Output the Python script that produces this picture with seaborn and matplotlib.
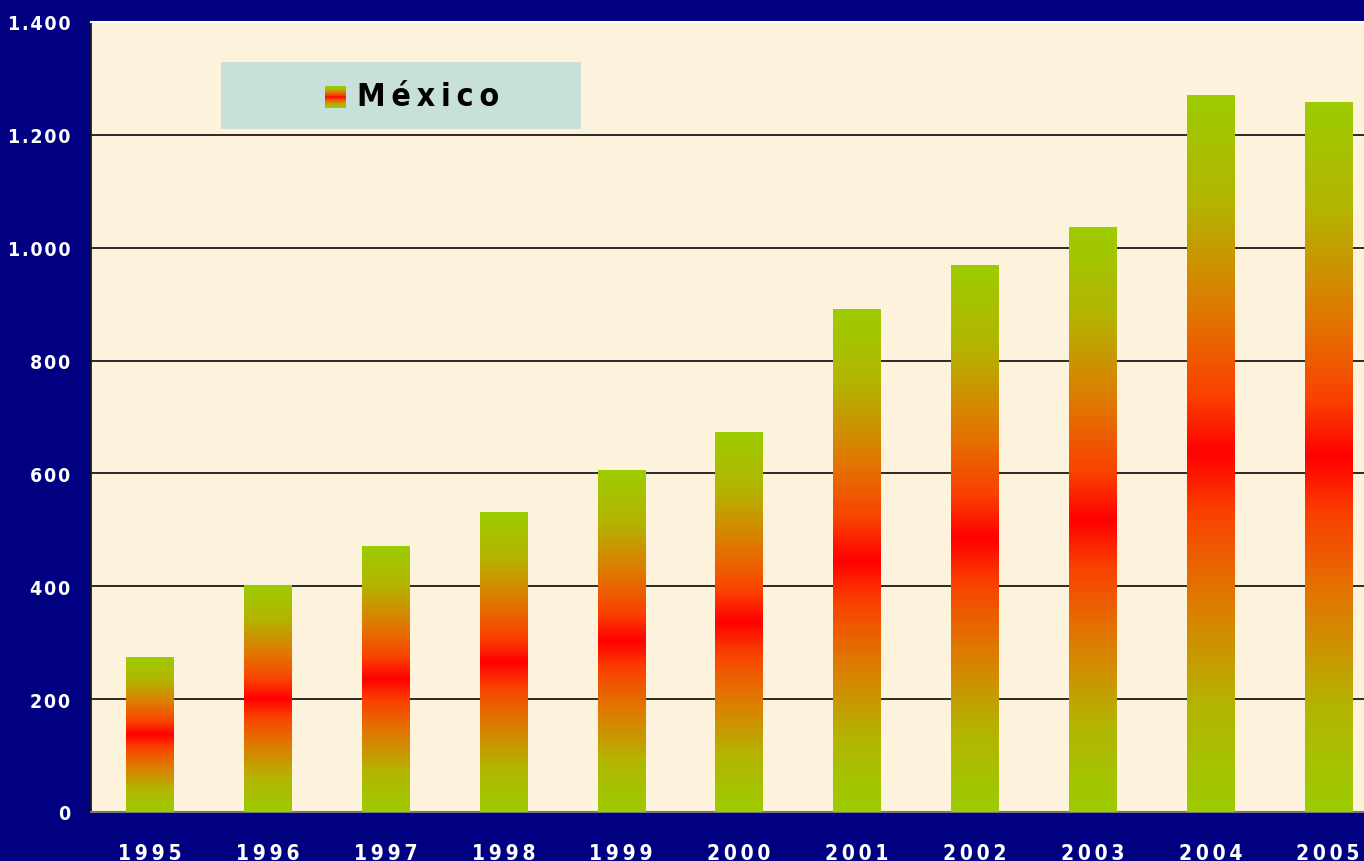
import matplotlib
matplotlib.use("Agg")

import matplotlib.pyplot as plt
import numpy as np
import pandas as pd
import seaborn as sns
from matplotlib.colors import LinearSegmentedColormap
from matplotlib.patches import Rectangle

# Data
years = ["1995", "1996", "1997", "1998", "1999", "2000",
         "2001", "2002", "2003", "2004", "2005"]
values = [273, 402, 470, 530, 606, 672, 890, 969, 1035, 1269, 1258]
y_ticks = [0, 200, 400, 600, 800, 1000, 1200, 1400]
series_name = "México"

NAVY = "#000080"
PAPER = "#FDF2DC"
LEGEND_BG = "#C8E0DA"
grad = LinearSegmentedColormap.from_list("mx", [
    (0.00, "#9CCC00"), (0.15, "#B4B400"), (0.30, "#E07800"),
    (0.42, "#FA4000"), (0.50, "#FF0000"), (0.58, "#FA4000"),
    (0.70, "#E07800"), (0.85, "#B4B400"), (1.00, "#9CCC00")])

THIN = "\u2009"
HAIR = "\u200a"


def spaced(s, sep=THIN):
    return sep.join(s)


def tick_fmt(v):
    return spaced(f"{v:,}".replace(",", "."), HAIR)


sns.set_style("white")
plt.rcParams["font.family"] = ["DejaVu Sans"]
plt.rcParams["font.stretch"] = "condensed"

df = pd.DataFrame({"year": years, "value": values})

fig = plt.figure(figsize=(13.64, 8.62), dpi=100, facecolor=NAVY)
ax = fig.add_axes([91 / 1364, 49 / 862, 1296 / 1364, 790 / 862])
ax.set_facecolor(PAPER)

sns.barplot(data=df, x="year", y="value", width=0.40, color="#9CCC00",
            edgecolor="none", ax=ax, zorder=3)

# vertical green-red-green gradient inside each bar
g = np.linspace(0, 1, 256).reshape(-1, 1)
for p in ax.patches:
    x0, y0 = p.get_x(), p.get_y()
    w, h = p.get_width(), p.get_height()
    ax.imshow(g, cmap=grad, aspect="auto", origin="lower",
              extent=[x0, x0 + w, y0, y0 + h], zorder=4,
              interpolation="bilinear")
    p.set_facecolor("none")

ax.set_xlim(-0.5, len(years) - 0.5)
ax.set_ylim(0, 1400)

ax.set_yticks(y_ticks)
ax.set_yticklabels([tick_fmt(v) for v in y_ticks], color="white",
                   fontsize=14, fontweight="bold")
ax.yaxis.grid(True, color="#1a1a1a", linewidth=1.3, zorder=1)
ax.set_axisbelow(True)
ax.tick_params(axis="y", direction="out", length=7, width=1.3,
               color="black", pad=8)

ax.set_xticks(range(len(years)))
ax.set_xticklabels([spaced(y) for y in years], color="white",
                   fontsize=15, fontweight="bold")
ax.tick_params(axis="x", length=0, pad=22)
# category separators on the x axis
ax.set_xticks(np.arange(-0.5, len(years)), minor=True)
ax.tick_params(axis="x", which="minor", direction="inout", length=14,
               width=1.3, color="black")

ax.set_xlabel("")
ax.set_ylabel("")
ax.spines["right"].set_visible(False)
ax.spines["top"].set_color("white")
ax.spines["top"].set_linewidth(1.5)
ax.spines["left"].set_color("#1a1a1a")
ax.spines["left"].set_linewidth(1.3)
ax.spines["bottom"].set_color("#777777")
ax.spines["bottom"].set_linewidth(1.5)

# legend box
box = Rectangle((221 / 1364, 1 - 130 / 862), 360 / 1364, 67 / 862,
                transform=fig.transFigure, facecolor=LEGEND_BG,
                edgecolor="none", zorder=10)
fig.add_artist(box)
lax = fig.add_axes([325 / 1364, 1 - 109 / 862, 21 / 1364, 22 / 862], zorder=11)
lax.imshow(g, cmap=grad, aspect="auto", origin="lower",
           interpolation="bilinear")
lax.set_axis_off()
fig.text(357 / 1364, 1 - 98 / 862, spaced(series_name, THIN), fontsize=23,
         fontweight="bold", color="black", va="center", ha="left", zorder=12)

fig.savefig("out.png", dpi=100, facecolor=NAVY)
